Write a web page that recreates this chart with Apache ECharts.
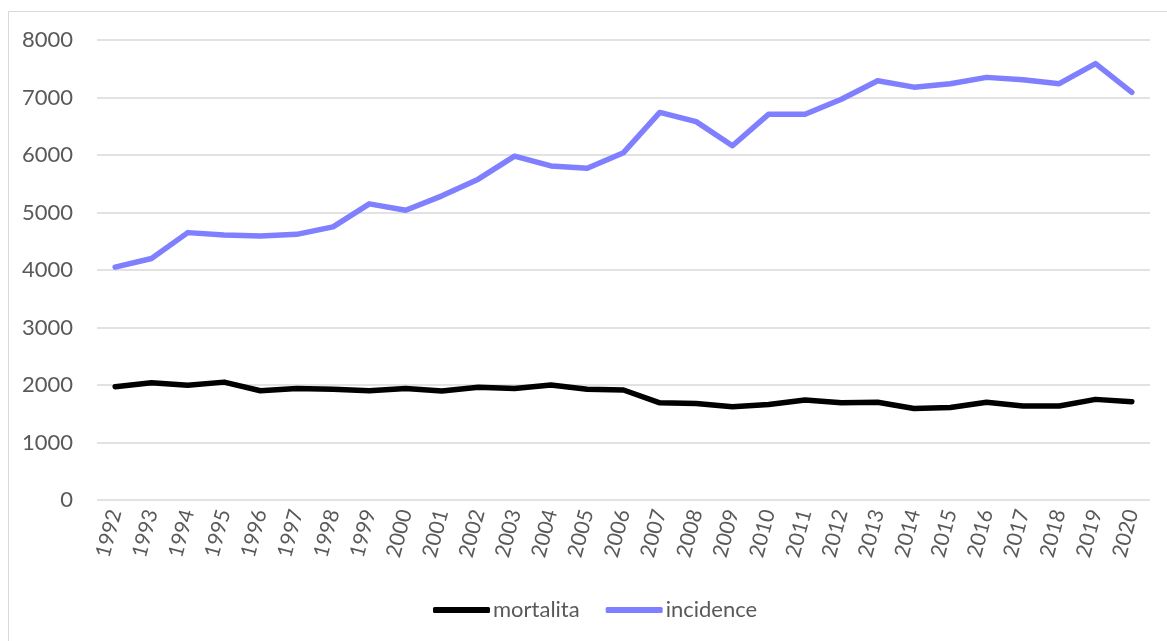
<!DOCTYPE html>
<html><head><meta charset="utf-8">
<script src="https://cdn.jsdelivr.net/npm/echarts@6/dist/echarts.min.js"></script>
<style>html,body{margin:0;padding:0;background:#fff}#c{width:1167px;height:641px}</style>
</head><body><div id="c"></div>
<script>
const years = ['1992','1993','1994','1995','1996','1997','1998','1999','2000','2001','2002','2003','2004','2005','2006','2007','2008','2009','2010','2011','2012','2013','2014','2015','2016','2017','2018','2019','2020'];
const mortalita = [1970,2040,1995,2050,1900,1940,1925,1900,1940,1895,1960,1940,2000,1925,1913,1690,1680,1620,1660,1740,1690,1700,1590,1610,1700,1635,1635,1750,1710];
const incidence = [4050,4200,4650,4610,4590,4620,4750,5150,5040,5290,5580,5980,5810,5770,6040,6740,6580,6160,6710,6710,6970,7290,7180,7240,7350,7310,7240,7590,7090];
const yTicks = {min:0, max:8000, interval:1000};

const font = 'Lato, "Open Sans", sans-serif';
const chart = echarts.init(document.getElementById('c'), null, {renderer:'canvas'});
chart.setOption({
  animation:false,
  graphic:[{type:'rect', shape:{x:8.5,y:11.5,width:1200,height:700}, style:{fill:'none', stroke:'#d9d9d9', lineWidth:1}}],
  grid:{left:97, right:17, top:40, bottom:141},
  legend:{
    top:594, left:428, itemWidth:57, itemHeight:6, itemGap:26,
    textStyle:{color:'#595959', fontSize:22, fontFamily:font, padding:[0,0,0,-2]},
    data:[{name:'mortalita', icon:'roundRect'},{name:'incidence', icon:'roundRect'}]
  },
  xAxis:{
    type:'category', data:years, boundaryGap:true,
    axisLine:{show:false}, axisTick:{show:false},
    axisLabel:{color:'#595959', fontSize:21, fontFamily:font, rotate:75, interval:0, margin:10}
  },
  yAxis:{
    type:'value', min:yTicks.min, max:yTicks.max, interval:yTicks.interval,
    axisLine:{show:false}, axisTick:{show:false},
    splitLine:{lineStyle:{color:'#d9d9d9', width:1.5}},
    axisLabel:{color:'#595959', fontSize:22, fontFamily:font, margin:24, formatter:function(v){return String(v);}}
  },
  series:[
    {name:'mortalita', type:'line', data:mortalita, symbol:'none', lineStyle:{color:'#000000', width:5.5, cap:'round', join:'round'}, itemStyle:{color:'#000000'}},
    {name:'incidence', type:'line', data:incidence, symbol:'none', lineStyle:{color:'#7f7fff', width:5.5, cap:'round', join:'round'}, itemStyle:{color:'#7f7fff'}}
  ]
});
</script></body></html>
